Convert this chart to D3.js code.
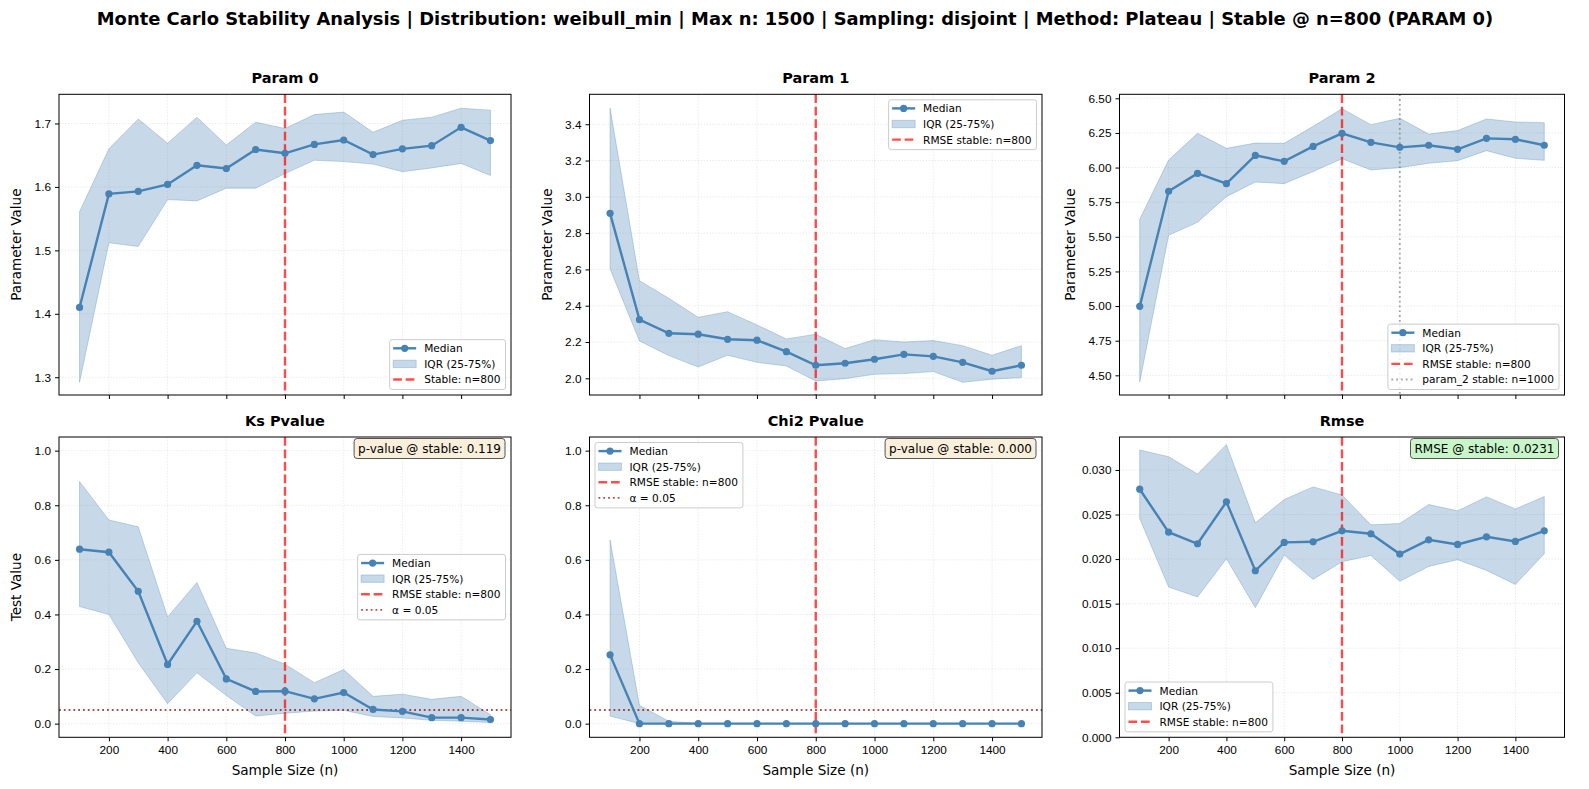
<!DOCTYPE html>
<html>
<head>
<meta charset="utf-8">
<script src="https://cdn.jsdelivr.net/npm/d3@7/dist/d3.min.js"></script>
<style>
  body { margin: 0; background: white; }
  svg { font-family: "DejaVu Sans", sans-serif; display: block; }
</style>
</head>
<body>
<div id="chart"></div>
<script>
// sample sizes shared by every panel
var sampleSizes = [100, 200, 300, 400, 500, 600, 700, 800, 900, 1000, 1100, 1200, 1300, 1400, 1500];
var xTicks = [200, 400, 600, 800, 1000, 1200, 1400];

// Param 0
var p0Median = [1.410, 1.589, 1.593, 1.604, 1.634, 1.629, 1.659, 1.653, 1.667, 1.674, 1.651, 1.660, 1.665, 1.694, 1.673];
var p0Q1     = [1.292, 1.512, 1.506, 1.580, 1.578, 1.598, 1.598, 1.621, 1.642, 1.640, 1.636, 1.624, 1.630, 1.637, 1.618];
var p0Q3     = [1.561, 1.660, 1.707, 1.669, 1.710, 1.666, 1.702, 1.692, 1.714, 1.718, 1.686, 1.705, 1.710, 1.724, 1.721];

// Param 1
var p1Median = [2.909, 2.323, 2.248, 2.243, 2.215, 2.210, 2.147, 2.072, 2.083, 2.105, 2.132, 2.121, 2.088, 2.039, 2.072];
var p1Q1     = [2.603, 2.206, 2.125, 2.062, 2.127, 2.088, 2.068, 1.985, 1.998, 2.022, 2.026, 2.037, 1.978, 1.995, 2.004];
var p1Q3     = [3.488, 2.538, 2.441, 2.336, 2.367, 2.294, 2.217, 2.243, 2.164, 2.213, 2.200, 2.208, 2.180, 2.127, 2.180];

// Param 2
var p2Median = [4.998, 5.829, 5.958, 5.884, 6.088, 6.045, 6.153, 6.247, 6.182, 6.146, 6.161, 6.132, 6.211, 6.204, 6.161];
var p2Q1     = [4.452, 5.511, 5.605, 5.790, 5.896, 5.884, 5.971, 6.064, 5.983, 5.999, 6.031, 6.050, 6.122, 6.067, 6.052];
var p2Q3     = [5.626, 6.055, 6.247, 6.139, 6.177, 6.175, 6.298, 6.425, 6.310, 6.356, 6.242, 6.267, 6.351, 6.329, 6.324];

// KS p-value
var ksMedian = [0.639, 0.628, 0.485, 0.217, 0.375, 0.164, 0.118, 0.119, 0.091, 0.114, 0.052, 0.045, 0.022, 0.022, 0.015];
var ksQ1     = [0.429, 0.400, 0.223, 0.073, 0.186, 0.103, 0.028, 0.038, 0.046, 0.049, 0.026, 0.021, 0.012, 0.009, 0.004];
var ksQ3     = [0.887, 0.746, 0.721, 0.391, 0.517, 0.276, 0.259, 0.218, 0.150, 0.198, 0.100, 0.108, 0.089, 0.100, 0.033];

// Chi2 p-value
var chiMedian = [0.252, 0, 0, 0, 0, 0, 0, 0, 0, 0, 0, 0, 0, 0, 0];
var chiQ1     = [0.028, 0, 0, 0, 0, 0, 0, 0, 0, 0, 0, 0, 0, 0, 0];
var chiQ3     = [0.673, 0.067, 0.009, 0.001, 0.001, 0.001, 0.001, 0.001, 0.001, 0.001, 0.001, 0.001, 0.001, 0.001, 0.001];

// RMSE
var rmseMedian = [0.02784, 0.02302, 0.02172, 0.02642, 0.01869, 0.02187, 0.02194, 0.02317, 0.02284, 0.02056, 0.02216, 0.02164, 0.02250, 0.02198, 0.02317];
var rmseQ1     = [0.02455, 0.01687, 0.01575, 0.02004, 0.01455, 0.02045, 0.01772, 0.01970, 0.02041, 0.01750, 0.01918, 0.01993, 0.01873, 0.01716, 0.02060];
var rmseQ3     = [0.03224, 0.03149, 0.02955, 0.03284, 0.02407, 0.02668, 0.02810, 0.02720, 0.02384, 0.02399, 0.02612, 0.02541, 0.02698, 0.02563, 0.02701];

var stableN = 800;
var param2StableN = 1000;
var alphaLevel = 0.05;

var width = 1589, height = 789;
var steel = "#4682b4";

var svg = d3.select("#chart").append("svg")
    .attr("width", width)
    .attr("height", height)
    .style("background-color", "white");

svg.append("text")
    .attr("x", 795).attr("y", 18)
    .attr("text-anchor", "middle")
    .attr("dominant-baseline", "central")
    .style("font-size", "17.9px")
    .style("font-weight", "bold")
    .text("Monte Carlo Stability Analysis | Distribution: weibull_min | Max n: 1500 | Sampling: disjoint | Method: Plateau | Stable @ n=800 (PARAM 0)");

var cols = [[59, 511], [589.5, 1042], [1119.5, 1564.5]];
var rows = [[94.3, 395], [437, 737.3]];

var panels = [
  {title: "Param 0", med: p0Median, q1: p0Q1, q3: p0Q3, dom: [1.272, 1.746], ticks: [1.3, 1.4, 1.5, 1.6, 1.7], fmt: ".1f",
   ylab: "Parameter Value", col: 0, row: 0, legend: "lower right", stableLabel: "Stable: n=800"},
  {title: "Param 1", med: p1Median, q1: p1Q1, q3: p1Q3, dom: [1.908, 3.565], ticks: [2.0, 2.2, 2.4, 2.6, 2.8, 3.0, 3.2, 3.4], fmt: ".1f",
   ylab: "Parameter Value", col: 1, row: 0, legend: "upper right", stableLabel: "RMSE stable: n=800"},
  {title: "Param 2", med: p2Median, q1: p2Q1, q3: p2Q3, dom: [4.358, 6.529], ticks: [4.5, 4.75, 5.0, 5.25, 5.5, 5.75, 6.0, 6.25, 6.5], fmt: ".2f",
   ylab: "Parameter Value", col: 2, row: 0, legend: "lower right", stableLabel: "RMSE stable: n=800", p2line: true},
  {title: "Ks Pvalue", med: ksMedian, q1: ksQ1, q3: ksQ3, dom: [-0.05, 1.05], ticks: [0, 0.2, 0.4, 0.6, 0.8, 1.0], fmt: ".1f",
   ylab: "Test Value", col: 0, row: 1, legend: "center right", stableLabel: "RMSE stable: n=800", alpha: true,
   box: {text: "p-value @ stable: 0.119", fill: "#faefda"}},
  {title: "Chi2 Pvalue", med: chiMedian, q1: chiQ1, q3: chiQ3, dom: [-0.05, 1.05], ticks: [0, 0.2, 0.4, 0.6, 0.8, 1.0], fmt: ".1f",
   ylab: null, col: 1, row: 1, legend: "upper left", stableLabel: "RMSE stable: n=800", alpha: true,
   box: {text: "p-value @ stable: 0.000", fill: "#faefda"}},
  {title: "Rmse", med: rmseMedian, q1: rmseQ1, q3: rmseQ3, dom: [0, 0.0337], ticks: [0, 0.005, 0.01, 0.015, 0.02, 0.025, 0.03], fmt: ".3f",
   ylab: null, col: 2, row: 1, legend: "lower left", stableLabel: "RMSE stable: n=800",
   box: {text: "RMSE @ stable: 0.0231", fill: "#c8f6c8"}}
];

panels.forEach(function(p) {
  var x0 = cols[p.col][0], x1 = cols[p.col][1];
  var y0 = rows[p.row][0], y1 = rows[p.row][1];
  var pw = x1 - x0, ph = y1 - y0;

  var x = d3.scaleLinear().domain([30, 1570]).range([0, pw]);
  var y = d3.scaleLinear().domain(p.dom).range([ph, 0]);

  var g = svg.append("g").attr("transform", "translate(" + x0 + "," + y0 + ")");

  // grid
  g.append("g").selectAll("line").data(xTicks).enter().append("line")
      .attr("x1", function(d) { return x(d); }).attr("x2", function(d) { return x(d); })
      .attr("y1", 0).attr("y2", ph)
      .attr("stroke", "#b0b0b0").attr("stroke-opacity", 0.3)
      .attr("stroke-width", 0.8).attr("stroke-dasharray", "1.5,1.5");
  g.append("g").selectAll("line").data(p.ticks).enter().append("line")
      .attr("y1", function(d) { return y(d); }).attr("y2", function(d) { return y(d); })
      .attr("x1", 0).attr("x2", pw)
      .attr("stroke", "#b0b0b0").attr("stroke-opacity", 0.3)
      .attr("stroke-width", 0.8).attr("stroke-dasharray", "1.5,1.5");

  var pts = sampleSizes.map(function(n, i) { return {n: n, m: p.med[i], lo: p.q1[i], hi: p.q3[i]}; });

  // IQR band
  var area = d3.area()
      .x(function(d) { return x(d.n); })
      .y0(function(d) { return y(d.lo); })
      .y1(function(d) { return y(d.hi); });
  g.append("path").datum(pts)
      .attr("d", area)
      .attr("fill", steel).attr("fill-opacity", 0.3)
      .attr("stroke", steel).attr("stroke-opacity", 0.3).attr("stroke-width", 1);

  // stable line
  g.append("line")
      .attr("x1", x(stableN)).attr("x2", x(stableN))
      .attr("y1", 0).attr("y2", ph)
      .attr("stroke", "red").attr("stroke-opacity", 0.7)
      .attr("stroke-width", 2.4).attr("stroke-dasharray", "8.7,3.8");

  if (p.p2line) {
    g.append("line")
        .attr("x1", x(param2StableN)).attr("x2", x(param2StableN))
        .attr("y1", 0).attr("y2", ph)
        .attr("stroke", "gray").attr("stroke-opacity", 0.7)
        .attr("stroke-width", 1.8).attr("stroke-dasharray", "1.8,3");
  }
  if (p.alpha) {
    g.append("line")
        .attr("x1", 0).attr("x2", pw)
        .attr("y1", y(alphaLevel)).attr("y2", y(alphaLevel))
        .attr("stroke", "darkred").attr("stroke-opacity", 0.7)
        .attr("stroke-width", 1.8).attr("stroke-dasharray", "1.8,3");
  }

  // median line + markers
  var line = d3.line()
      .x(function(d) { return x(d.n); })
      .y(function(d) { return y(d.m); });
  g.append("path").datum(pts)
      .attr("d", line)
      .attr("fill", "none").attr("stroke", steel).attr("stroke-width", 2.4);
  g.append("g").selectAll("circle").data(pts).enter().append("circle")
      .attr("cx", function(d) { return x(d.n); })
      .attr("cy", function(d) { return y(d.m); })
      .attr("r", 3.6)
      .attr("fill", steel);

  // axes frame
  g.append("rect").attr("width", pw).attr("height", ph)
      .attr("fill", "none").attr("stroke", "black").attr("stroke-width", 1);

  // x axis
  var xAxis = d3.axisBottom(x).tickValues(xTicks).tickSize(4).tickPadding(4).tickFormat(d3.format("d"));
  if (p.row === 0) xAxis.tickFormat("");
  var xg = g.append("g").attr("transform", "translate(0," + ph + ")").call(xAxis);
  xg.select(".domain").remove();
  xg.selectAll("text").style("font-size", "11.8px").attr("fill", "#000");

  // y axis
  var yg = g.append("g").call(d3.axisLeft(y).tickValues(p.ticks).tickSize(4).tickPadding(4).tickFormat(d3.format(p.fmt)));
  yg.select(".domain").remove();
  yg.selectAll("text").style("font-size", "11.8px").attr("fill", "#000");

  // title
  g.append("text")
      .attr("x", pw / 2).attr("y", -11)
      .attr("text-anchor", "middle")
      .style("font-size", "14.5px").style("font-weight", "bold")
      .text(p.title);

  if (p.row === 1) {
    g.append("text")
        .attr("x", pw / 2).attr("y", ph + 38)
        .attr("text-anchor", "middle")
        .style("font-size", "13.6px")
        .text("Sample Size (n)");
  }
  if (p.ylab) {
    var lx = p.col === 2 ? -45 : -38;
    g.append("text")
        .attr("transform", "translate(" + lx + "," + (ph / 2) + ") rotate(-90)")
        .attr("text-anchor", "middle")
        .style("font-size", "13.6px")
        .text(p.ylab);
  }

  // stats box
  if (p.box) {
    var bg = g.append("g");
    var bt = bg.append("text")
        .attr("x", pw - 10).attr("y", 16)
        .attr("text-anchor", "end")
        .style("font-size", "12px")
        .text(p.box.text);
    var bb = bt.node().getBBox();
    bg.insert("rect", "text")
        .attr("x", bb.x - 4).attr("y", 1.5)
        .attr("width", bb.width + 8).attr("height", 20)
        .attr("rx", 3)
        .attr("fill", p.box.fill)
        .attr("stroke", "#555").attr("stroke-width", 1);
  }

  // legend
  var items = [
    {type: "median", label: "Median"},
    {type: "iqr", label: "IQR (25-75%)"},
    {type: "stable", label: p.stableLabel}
  ];
  if (p.p2line) items.push({type: "p2", label: "param_2 stable: n=1000"});
  if (p.alpha) items.push({type: "alpha", label: "\u03b1 = 0.05"});

  var lg = g.append("g");
  var box = lg.append("rect");
  var texts = lg.selectAll("text.lab").data(items).enter().append("text")
      .attr("class", "lab")
      .attr("x", 34.5)
      .attr("y", function(d, i) { return 8.6 + i * 15.6; })
      .attr("dominant-baseline", "central")
      .style("font-size", "10.6px")
      .text(function(d) { return d.label; });
  var maxW = d3.max(texts.nodes(), function(n) { return n.getComputedTextLength(); });
  var lw = 34.5 + maxW + 5;
  var lh = 8.6 + (items.length - 1) * 15.6 + 10;
  box.attr("width", lw).attr("height", lh).attr("rx", 2.5)
      .attr("fill", "white").attr("fill-opacity", 0.8)
      .attr("stroke", "#cccccc").attr("stroke-width", 1);

  items.forEach(function(d, i) {
    var cy = 8.6 + i * 15.6;
    if (d.type === "median") {
      lg.append("line").attr("x1", 3.5).attr("x2", 26.5).attr("y1", cy).attr("y2", cy)
          .attr("stroke", steel).attr("stroke-width", 2.4);
      lg.append("circle").attr("cx", 15).attr("cy", cy).attr("r", 3.6).attr("fill", steel);
    } else if (d.type === "iqr") {
      lg.append("rect").attr("x", 3.5).attr("y", cy - 3.7).attr("width", 23).attr("height", 7.4)
          .attr("fill", steel).attr("fill-opacity", 0.3)
          .attr("stroke", steel).attr("stroke-opacity", 0.3);
    } else if (d.type === "stable") {
      lg.append("line").attr("x1", 3.5).attr("x2", 26.5).attr("y1", cy).attr("y2", cy)
          .attr("stroke", "red").attr("stroke-opacity", 0.7)
          .attr("stroke-width", 2.4).attr("stroke-dasharray", "8.7,3.8");
    } else {
      lg.append("line").attr("x1", 3.5).attr("x2", 26.5).attr("y1", cy).attr("y2", cy)
          .attr("stroke", d.type === "p2" ? "gray" : "darkred").attr("stroke-opacity", 0.7)
          .attr("stroke-width", 1.8).attr("stroke-dasharray", "1.8,3");
    }
  });

  var pad = 5.5, lx0, ly0;
  if (p.legend.indexOf("right") >= 0) lx0 = pw - pad - lw; else lx0 = pad;
  if (p.legend.indexOf("lower") >= 0) ly0 = ph - pad - lh;
  else if (p.legend.indexOf("upper") >= 0) ly0 = pad;
  else ly0 = (ph - lh) / 2;
  lg.attr("transform", "translate(" + lx0 + "," + ly0 + ")");
});
</script>
</body>
</html>
